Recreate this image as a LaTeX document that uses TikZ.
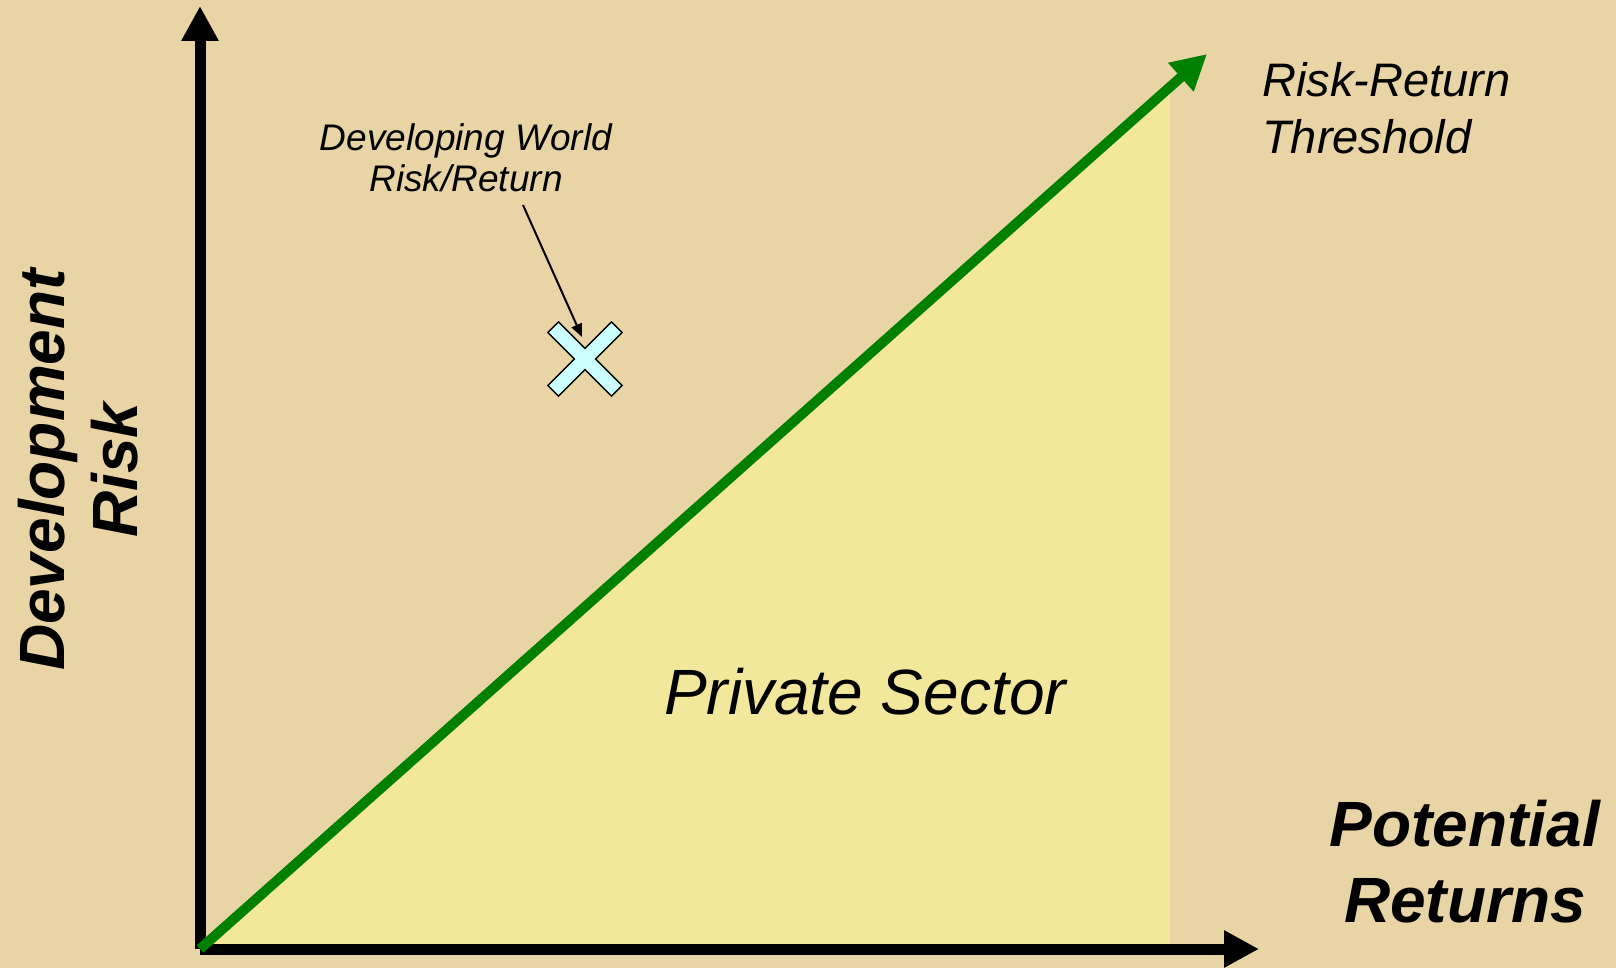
\documentclass[tikz,border=0pt]{standalone}
\usepackage{fontspec}
\setmainfont{Liberation Sans}
\usetikzlibrary{arrows.meta}

\definecolor{bgtan}{RGB}{232,212,164}
\definecolor{palesector}{RGB}{243,231,155}
\definecolor{icecyan}{RGB}{204,255,255}
\definecolor{thrgreen}{RGB}{0,128,0}

\begin{document}
\begin{tikzpicture}[x=1pt, y=-1pt,
    axisline/.style={line width=11pt, -{Triangle[length=35pt,width=35pt]}},
    threshold/.style={line width=10pt, thrgreen, -{Triangle[length=35pt,width=36pt]}},
    axislabel/.style={font=\bfseries\itshape\fontsize{64}{76}\selectfont, align=center, inner sep=0pt},
    note/.style={font=\itshape\fontsize{37}{41}\selectfont, align=center, inner sep=0pt},
    pointer/.style={line width=2pt, -{Triangle[length=13pt,width=11pt]}}]
            \fill[bgtan] (0,0) rectangle (1616,968);
            \useasboundingbox (0,0) rectangle (1616,968);

            \coordinate (O) at (200,949);
            \coordinate (ytop) at (200,6);
            \coordinate (xend) at (1259,949);
            \coordinate (thr) at (1207,54);
            \coordinate (corner) at (1170,87);
            \coordinate (fillfoot) at (1170,949);
            \coordinate (cross) at (585,359);
            \coordinate (notefoot) at (523,205);
            \coordinate (xtip) at (582,337);

            % private sector region
            \fill[palesector] (O) -- (corner) -- (fillfoot) -- cycle;

            \draw[axisline] (O) -- (ytop);
            \draw[axisline] (O) -- (xend);
            \draw[threshold] (O) -- (thr);

            % developing world marker
            \begin{scope}[shift={(cross)}, rotate=45]
                \draw[fill=icecyan, line width=1.5pt, line join=miter]
                    (7.5,45) -- (7.5,7.5) -- (45,7.5) -- (45,-7.5) -- (7.5,-7.5) -- (7.5,-45)
                    -- (-7.5,-45) -- (-7.5,-7.5) -- (-45,-7.5) -- (-45,7.5) -- (-7.5,7.5) -- (-7.5,45) -- cycle;
            \end{scope}

            \node[note] (devworld) at (466,158) {Developing World\\Risk/Return};
            \draw[pointer] (notefoot) -- (xtip);

            \node[font=\itshape\fontsize{47}{57}\selectfont, align=left, anchor=west, inner sep=0pt] (thrlabel) at (1262,108) {Risk-Return\\Threshold};
            \node[font=\itshape\fontsize{64}{72}\selectfont, anchor=base, inner sep=0pt] (private) at (865,714) {Private Sector};
            \node[axislabel] (xlabel) at (1465,862) {Potential\\Returns};
            \node[axislabel, font=\bfseries\itshape\fontsize{64}{73}\selectfont, rotate=90] (ylabel) at (78,470) {Development\\Risk};
        \end{tikzpicture}
\end{document}
